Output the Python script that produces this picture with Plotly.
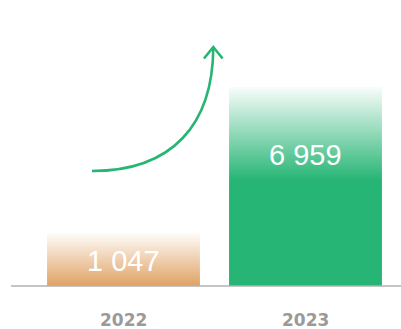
import plotly.graph_objects as go

years = ["2022", "2023"]
values = [1047, 6959]
value_labels = ["1 047", "6 959"]
bar_colors = [(223, 162, 99), (38, 181, 116)]
fade_stops = [0.0, 0.53]  # fraction of bar height where colour is fully opaque

W, H = 401, 329
BASE = -1099           # visual baseline value
x_pos = [0, 1]
half_w = 0.42
x_range = [-123.5 / 182, (401 - 123.5) / 182]
y_range = [-2840, 10482]

fig = go.Figure()

for i, (yr, v, lab, c, fs) in enumerate(zip(years, values, value_labels, bar_colors, fade_stops)):
    x0, x1 = x_pos[i] - half_w, x_pos[i] + half_w
    rgb = f"{c[0]},{c[1]},{c[2]}"
    cs = [[0, f"rgba({rgb},1)"]]
    if fs > 0:
        cs.append([fs, f"rgba({rgb},1)"])
    cs.append([1, f"rgba({rgb},0.03)"])
    fig.add_trace(go.Scatter(
        x=[x0, x1, x1, x0, x0], y=[BASE, BASE, v, v, BASE],
        mode="lines", line=dict(width=0), fill="toself",
        fillgradient=dict(type="vertical", colorscale=cs, start=BASE, stop=v),
        hoverinfo="skip", showlegend=False,
    ))

# value labels
label_y = [BASE + (values[0] - BASE) * 0.47, BASE + (values[1] - BASE) * 0.66]
for i in range(2):
    fig.add_annotation(x=x_pos[i], y=label_y[i], text=value_labels[i], showarrow=False,
                       font=dict(family="Liberation Sans, Arial", size=29, color="white"),
                       xanchor="center", yanchor="middle")

# year labels
for i in range(2):
    fig.add_annotation(x=x_pos[i], y=1 - 320 / H, yref="paper", text=f"<b>{years[i]}</b>",
                       showarrow=False, xanchor="center", yanchor="middle",
                       font=dict(family="DejaVu Sans", size=17, color="#9a9a9a"))

# baseline
fig.add_shape(type="line", xref="paper", yref="y", x0=11 / W, x1=1, y0=BASE, y1=BASE,
              line=dict(color="#b2b2b2", width=1.3))

# growth arrow (paper pixel coords)
def px(xp, yp):
    return xp / W, 1 - yp / H

p0 = px(92, 171); c1 = px(172, 171); c2 = px(213, 125); p3 = px(213.3, 47)
fig.add_shape(type="path", xref="paper", yref="paper",
              path=f"M {p0[0]} {p0[1]} C {c1[0]} {c1[1]}, {c2[0]} {c2[1]}, {p3[0]} {p3[1]}",
              line=dict(color="#27b573", width=2.6))
a1 = px(204, 58.5); a2 = px(222.6, 58.5)
fig.add_shape(type="path", xref="paper", yref="paper",
              path=f"M {a1[0]} {a1[1]} L {p3[0]} {p3[1]} L {a2[0]} {a2[1]}",
              line=dict(color="#27b573", width=2.6))

fig.update_xaxes(range=x_range, visible=False, fixedrange=True)
fig.update_yaxes(range=y_range, visible=False, fixedrange=True)
fig.update_layout(width=W, height=H, margin=dict(l=0, r=0, t=0, b=0),
                  plot_bgcolor="white", paper_bgcolor="white", showlegend=False)

fig.write_html("out.html", config={"displayModeBar": False},
               post_script="document.body.style.margin='0';document.body.style.overflow='hidden';")
